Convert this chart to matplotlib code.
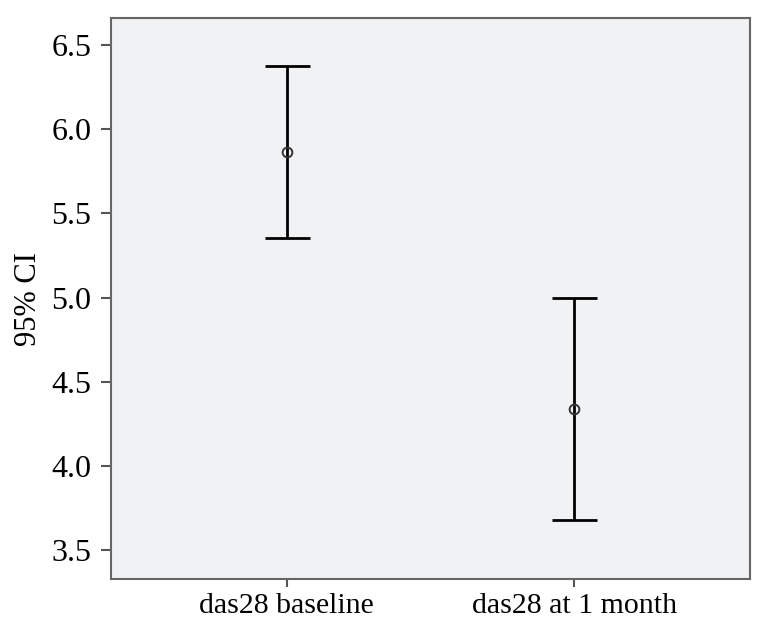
import matplotlib
matplotlib.use("Agg")
import matplotlib.pyplot as plt
import numpy as np

categories = ["das28 baseline", "das28 at 1 month"]
means = [5.866, 4.341]
ci_low = [5.357, 3.678]
ci_high = [6.375, 5.001]
yticks = [3.5, 4.0, 4.5, 5.0, 5.5, 6.0, 6.5]

plt.rcParams['font.family'] = ['Liberation Serif', 'DejaVu Serif']

fig = plt.figure(figsize=(7.63, 6.37), dpi=100)
ax = fig.add_axes([0.1455, 0.091, 0.8375, 0.8807])
ax.set_facecolor('#f1f2f4')

x = np.arange(len(categories))
m = np.array(means)
lo = m - np.array(ci_low)
hi = np.array(ci_high) - m
ax.errorbar(x, m, yerr=[lo, hi], fmt='none', ecolor='black', elinewidth=2,
            capsize=16.2, capthick=2, zorder=2)
ax.plot(x, m, 'o', ms=7, mfc='none', mec='#333333', mew=1.4, zorder=3)

ax.set_xlim(-0.61, 1.61)
ax.set_ylim(3.33, 6.66)
ax.set_xticks(x)
ax.set_xticklabels(categories, fontsize=21.5)
ax.set_yticks(yticks)
ax.set_yticklabels([f"{v:.1f}" for v in yticks], fontsize=23)
ax.set_ylabel("95% CI", fontsize=22, labelpad=6)

for s in ax.spines.values():
    s.set_color('#666666')
    s.set_linewidth(1.5)
ax.tick_params(axis='y', length=7, width=1.5, color='#555555', pad=7)
ax.tick_params(axis='x', length=6, width=1.5, color='#555555', pad=4)

fig.savefig("out.png", dpi=100)
